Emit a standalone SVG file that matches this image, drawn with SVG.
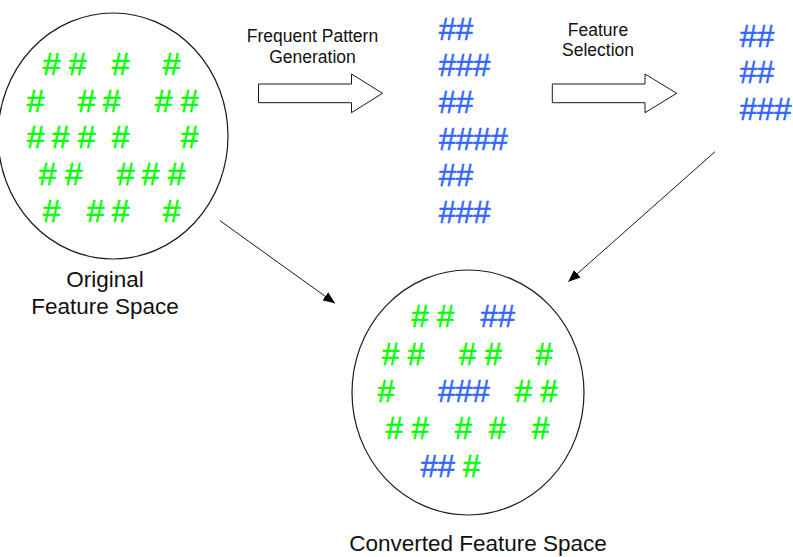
<svg xmlns="http://www.w3.org/2000/svg" width="793" height="557" viewBox="0 0 793 557">
  <defs>
    <marker id="head" viewBox="0 0 12 10" refX="12" refY="5" markerWidth="12" markerHeight="10" markerUnits="userSpaceOnUse" orient="auto">
      <path d="M0,0 L12,5 L0,10 Z" fill="#000"/>
    </marker>
    <style>
      .space { fill: #fff; stroke: #1a1a1a; stroke-width: 1.2; }
      .block { fill: #fff; stroke: #1a1a1a; stroke-width: 1; }
      .link { fill: none; stroke: #1a1a1a; stroke-width: 1; marker-end: url(#head); }
      .label { font-family: "Liberation Sans", Arial, sans-serif; fill: #111; text-anchor: middle; }
      .small { font-size: 17.5px; }
      .big { font-size: 22.5px; }
      .g { font-family: "Liberation Sans", Arial, sans-serif; fill: #00ff00; stroke: #00ff00; stroke-width: 0.5; }
      .b { font-family: "Liberation Sans", Arial, sans-serif; fill: #3366ff; stroke: #3366ff; stroke-width: 0.5; }
      .s32 { font-size: 32px; }
      .s31 { font-size: 31px; }
    </style>
  </defs>

  <!-- original feature space -->
  <g id="original-space">
    <ellipse class="space" cx="113" cy="136" rx="115" ry="123"/>
    <text class="g s32" y="75"><tspan x="42.7">#</tspan><tspan x="68.7">#</tspan><tspan x="111.7">#</tspan><tspan x="162.7">#</tspan></text>
    <text class="g s32" y="112"><tspan x="26.7">#</tspan><tspan x="77.7">#</tspan><tspan x="102.7">#</tspan><tspan x="154.7">#</tspan><tspan x="180.7">#</tspan></text>
    <text class="g s32" y="148"><tspan x="26.7">#</tspan><tspan x="51.7">#</tspan><tspan x="77.7">#</tspan><tspan x="111.7">#</tspan><tspan x="180.7">#</tspan></text>
    <text class="g s32" y="185"><tspan x="38.7">#</tspan><tspan x="64.7">#</tspan><tspan x="116.7">#</tspan><tspan x="141.7">#</tspan><tspan x="167.7">#</tspan></text>
    <text class="g s32" y="222"><tspan x="42.7">#</tspan><tspan x="86.7">#</tspan><tspan x="111.7">#</tspan><tspan x="162.7">#</tspan></text>
    <text class="label big" x="105" y="286.7">Original</text>
    <text class="label big" x="105" y="313.5">Feature Space</text>
  </g>

  <!-- frequent pattern generation step -->
  <g id="pattern-generation">
    <polygon class="block" points="258.5,84 351.5,84 351.5,74 382.5,93.3 351.5,112.7 351.5,102.7 258.5,102.7"/>
    <text class="label small" x="312.5" y="42.3">Frequent Pattern</text>
    <text class="label small" x="312.5" y="63.3">Generation</text>
  </g>

  <!-- generated patterns -->
  <g id="patterns">
    <text class="b s31" x="438.7" y="39.5">##</text>
    <text class="b s31" x="438.7" y="76">###</text>
    <text class="b s31" x="438.7" y="112.7">##</text>
    <text class="b s31" x="438.7" y="149.5">####</text>
    <text class="b s31" x="438.7" y="186.3">##</text>
    <text class="b s31" x="438.7" y="223">###</text>
  </g>

  <!-- feature selection step -->
  <g id="feature-selection">
    <polygon class="block" points="552.3,84 645,84 645,74 676.7,93.3 645,112.7 645,102.7 552.3,102.7"/>
    <text class="label small" x="598" y="35.7">Feature</text>
    <text class="label small" x="598" y="55.7">Selection</text>
  </g>

  <!-- selected patterns -->
  <g id="selected">
    <text class="b s31" x="739.7" y="46.7">##</text>
    <text class="b s31" x="739.7" y="83.3">##</text>
    <text class="b s31" x="739.7" y="120">###</text>
  </g>

  <!-- converted feature space -->
  <g id="converted-space">
    <ellipse class="space" cx="468" cy="392.5" rx="116" ry="122.5"/>
    <text class="s31" y="327"><tspan class="g" x="411.4">#</tspan><tspan class="g" x="437">#</tspan><tspan class="b" x="480.4">##</tspan></text>
    <text class="g s31" y="365"><tspan x="382">#</tspan><tspan x="407.4">#</tspan><tspan x="459">#</tspan><tspan x="484.7">#</tspan><tspan x="535.4">#</tspan></text>
    <text class="s31" y="402"><tspan class="g" x="377.4">#</tspan><tspan class="b" x="438">###</tspan><tspan class="g" x="514.7">#</tspan><tspan class="g" x="540.4">#</tspan></text>
    <text class="g s31" y="439"><tspan x="385.7">#</tspan><tspan x="411.7">#</tspan><tspan x="454.7">#</tspan><tspan x="488.7">#</tspan><tspan x="532">#</tspan></text>
    <text class="s31" y="476.5"><tspan class="b" x="420.4">##</tspan><tspan class="g" x="463">#</tspan></text>
    <text class="label big" x="478" y="551">Converted Feature Space</text>
  </g>

  <!-- connectors -->
  <g id="connectors">
    <line class="link" x1="220" y1="220.7" x2="335" y2="303.3"/>
    <line class="link" x1="715" y1="151.7" x2="568.3" y2="281.7"/>
  </g>
</svg>
